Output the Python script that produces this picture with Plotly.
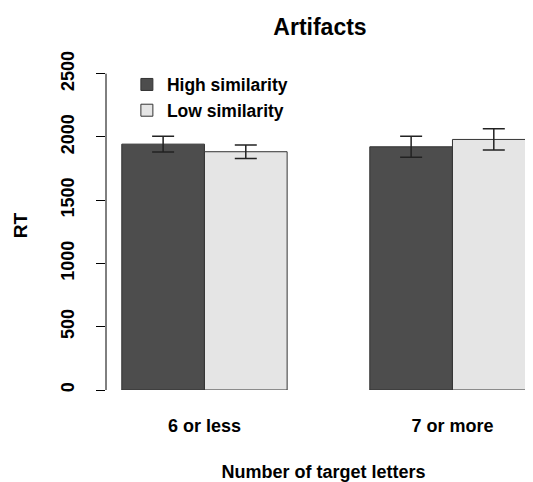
import plotly.graph_objects as go

categories = ["6 or less", "7 or more"]
series_names = ["High similarity", "Low similarity"]
high_rt = [1943, 1922]
high_err = [62, 83]
low_rt = [1883, 1980]
low_err = [54, 84]
y_ticks = [0, 500, 1000, 1500, 2000, 2500]
colors = ["#4d4d4d", "#e5e5e5"]

FONT = "Liberation Sans, Arial, sans-serif"

fig = go.Figure()
for name, vals, errs, col in zip(series_names, [high_rt, low_rt], [high_err, low_err], colors):
    fig.add_trace(go.Bar(
        x=categories, y=vals, name="<b>" + name + "</b>",
        marker=dict(color=col, line=dict(color="#333333", width=1)),
        error_y=dict(type="data", array=errs, visible=True, color="#222222", thickness=1.5, width=11),
    ))

fig.update_layout(
    width=533, height=482,
    margin=dict(l=98, r=0, t=53, b=100, autoexpand=False),
    paper_bgcolor="white", plot_bgcolor="white",
    barmode="group", bargap=1/3, bargroupgap=0,
    font=dict(family=FONT, color="black"),
    title=dict(text="<b>Artifacts</b>", x=312/533, xanchor="center", y=1-19/482, yanchor="middle",
               font=dict(size=23, family=FONT, color="black")),
    legend=dict(x=0.048, y=0.983, xanchor="left", yanchor="top", bgcolor="rgba(0,0,0,0)",
                font=dict(size=17.5, family=FONT, color="black"), tracegroupgap=0),
    showlegend=True,
)
fig.update_xaxes(
    range=[-0.397, 1.357], showline=False, showgrid=False, zeroline=False, ticks="",
    automargin=False,
    tickfont=dict(size=18, family=FONT, color="black"), ticklabelstandoff=23,
    tickvals=categories, ticktext=["<b>" + c + "</b>" for c in categories],
    title=dict(text="<b>Number of target letters</b>", font=dict(size=18, family=FONT, color="black"), standoff=30),
)
fig.update_yaxes(
    range=[0, 2600], showline=False, showgrid=False, zeroline=False,
    automargin=False,
    ticks="outside", ticklen=9, tickwidth=1, tickcolor="black",
    tickvals=y_ticks, ticktext=["<b>%d</b>" % v for v in y_ticks], tickangle=-90,
    tickfont=dict(size=18, family=FONT, color="black"), ticklabelstandoff=15,
    title=dict(text="<b>RT</b>", font=dict(size=19, family=FONT, color="black"), standoff=25),
)
fig.add_shape(type="line", xref="paper", yref="y", x0=0, x1=0, y0=y_ticks[0], y1=y_ticks[-1],
              line=dict(color="black", width=1))

fig.write_html("out.html")
